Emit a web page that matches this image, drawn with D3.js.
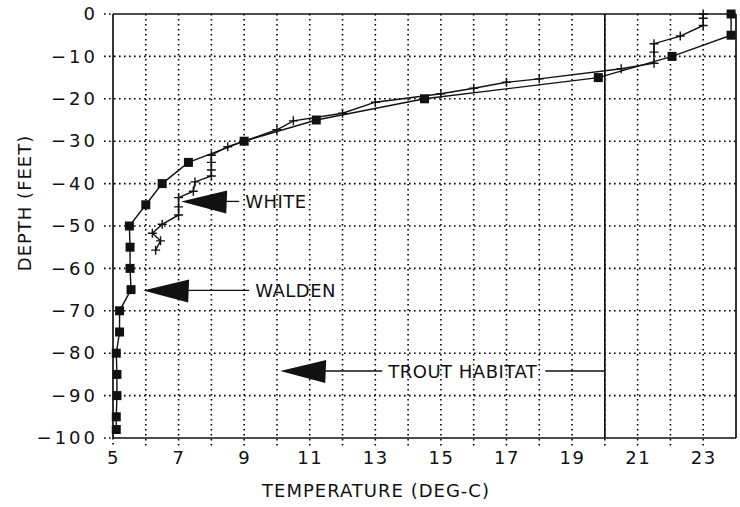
<!DOCTYPE html>
<html lang="en">
<head>
<meta charset="UTF-8">
<title>Lake temperature profiles</title>
<script src="https://d3js.org/d3.v7.min.js"></script>
<style>
  body { margin: 0; background: #fff; }
  svg { display: block; }
  text { font-family: "DejaVu Sans", sans-serif; fill: #111; }
  .grid line { stroke: #000; stroke-width: 1.6; stroke-dasharray: 1.6,3.4; }
  .frame { stroke: #111; stroke-width: 1.7; }
  .profile { fill: none; stroke: #111; stroke-width: 1.4; }
  .note line { stroke: #111; stroke-width: 1.3; }
</style>
</head>
<body>
<svg width="740" height="507"></svg>
<script>
// Walden Pond profile (square markers)
const waldenTemp  = [23.85, 23.85, 22.05, 19.8, 14.5, 11.2, 9.0, 7.3, 6.5, 6.0, 5.5, 5.52, 5.52, 5.55, 5.2, 5.2, 5.1, 5.12, 5.12, 5.1, 5.1];
const waldenDepth = [0, -5, -10, -15, -20, -25, -30, -35, -40, -45, -50, -55, -60, -65, -70, -75, -80, -85, -90, -95, -98];

// White Pond profile (plus markers)
const whiteTemp  = [23.0, 23.0, 23.0, 22.3, 21.5, 21.5, 21.5, 20.5, 18.0, 17.0, 16.0, 15.0, 13.0, 12.0, 10.5, 10.0, 8.5, 8.0, 8.0, 8.0, 8.0, 7.5, 7.45, 7.0, 7.0, 7.0, 6.5, 6.2, 6.45, 6.3];
const whiteDepth = [0, -1, -2.7, -5.2, -7, -9, -11.6, -12.9, -15.3, -16.1, -17.5, -18.8, -20.8, -23.4, -25.2, -27.3, -31.3, -33.3, -35, -36.8, -38.2, -39.6, -41.8, -43.3, -45.5, -47.4, -49.6, -51.7, -53.5, -55.7];

const xTicks = [5, 7, 9, 11, 13, 15, 17, 19, 21, 23];
const yTicks = [0, -10, -20, -30, -40, -50, -60, -70, -80, -90, -100];

// arrow annotations: tip position in data units
const noteLabels = ["WHITE", "WALDEN", "TROUT HABITAT"];
const noteTemp   = [7.08, 5.92, 10.1];
const noteDepth  = [-44.2, -65.2, -84.2];
const troutLimit = 20;

const svg = d3.select("svg");
const plotL = 113, plotR = 736, plotT = 14, plotB = 438;

const x = d3.scaleLinear().domain([5, 24]).range([plotL, plotR]);
const y = d3.scaleLinear().domain([0, -100]).range([plotT, plotB]);

// dotted grid
const grid = svg.append("g").attr("class", "grid");
grid.selectAll(".v").data(d3.range(6, 24)).join("line")
    .attr("x1", d => x(d)).attr("x2", d => x(d))
    .attr("y1", plotT).attr("y2", plotB + 8);
grid.selectAll(".h").data(yTicks.slice(1, -1)).join("line")
    .attr("class", "h")
    .attr("x1", plotL - 9).attr("x2", plotR)
    .attr("y1", d => y(d)).attr("y2", d => y(d));
// short dotted stubs outside the frame
grid.append("line").attr("x1", plotL - 9).attr("x2", plotL).attr("y1", y(0)).attr("y2", y(0));
grid.append("line").attr("x1", plotL - 9).attr("x2", plotL).attr("y1", y(-100)).attr("y2", y(-100));
grid.append("line").attr("x1", plotL).attr("x2", plotL).attr("y1", plotB).attr("y2", plotB + 8);

// frame
const frame = svg.append("g").attr("class", "frame");
frame.append("line").attr("x1", plotL).attr("x2", plotR).attr("y1", plotT).attr("y2", plotT);
frame.append("line").attr("x1", plotL).attr("x2", plotR).attr("y1", plotB).attr("y2", plotB);
frame.append("line").attr("x1", plotL).attr("x2", plotL).attr("y1", plotT).attr("y2", plotB);
frame.append("line").attr("x1", plotR).attr("x2", plotR).attr("y1", plotT).attr("y2", plotB);

// trout habitat limit
svg.append("line").attr("class", "frame")
    .attr("x1", x(troutLimit)).attr("x2", x(troutLimit))
    .attr("y1", plotT).attr("y2", plotB);

// axes
const xAxis = svg.append("g")
    .attr("transform", `translate(0,${plotB})`)
    .call(d3.axisBottom(x).tickValues(xTicks).tickSize(0).tickPadding(13));
const yAxis = svg.append("g")
    .attr("transform", `translate(${plotL},0)`)
    .call(d3.axisLeft(y).tickValues(yTicks).tickSize(0).tickPadding(15));
[xAxis, yAxis].forEach(a => {
  a.select(".domain").remove();
  a.selectAll("text").attr("font-size", 18)
      .attr("font-family", "DejaVu Sans").attr("fill", "#111");
});
xAxis.selectAll("text").attr("letter-spacing", 1.5);
yAxis.selectAll("text").attr("letter-spacing", 3);

svg.append("text")
    .attr("x", 376).attr("y", 497)
    .attr("text-anchor", "middle").attr("font-size", 18).attr("letter-spacing", 1)
    .text("TEMPERATURE (DEG-C)");
svg.append("text")
    .attr("transform", `translate(31,${203}) rotate(-90)`)
    .attr("text-anchor", "middle").attr("font-size", 18).attr("letter-spacing", 1)
    .text("DEPTH (FEET)");

// profiles
const line = d3.line().x(d => x(d[0])).y(d => y(d[1]));
const walden = waldenTemp.map((t, i) => [t, waldenDepth[i]]);
const white = whiteTemp.map((t, i) => [t, whiteDepth[i]]);

svg.append("path").attr("class", "profile").attr("d", line(white));
svg.append("path").attr("class", "profile").attr("d", line(walden));

svg.append("g").selectAll("rect").data(walden).join("rect")
    .attr("x", d => x(d[0]) - 4.5).attr("y", d => y(d[1]) - 4.5)
    .attr("width", 9).attr("height", 9).attr("fill", "#111");

svg.append("g").selectAll("path").data(white).join("path")
    .attr("d", d => `M${x(d[0]) - 4.5},${y(d[1])}h9M${x(d[0])},${y(d[1]) - 4.5}v9`)
    .attr("stroke", "#111").attr("stroke-width", 1.4);

// arrow notes
const notes = noteLabels.map((label, i) => ({label, t: noteTemp[i], d: noteDepth[i]}));
const gapAfter = [12, 60, 56];
const noteG = svg.append("g").attr("class", "note");
notes.forEach((n, i) => {
  const tx = x(n.t), ty = y(n.d);
  noteG.append("path")
      .attr("d", `M${tx},${ty}L${tx + 46},${ty - 11}L${tx + 45},${ty + 12}Z`)
      .attr("fill", "#111");
  const textX = tx + 46 + gapAfter[i] + 6;
  noteG.append("line")
      .attr("x1", tx + 45).attr("x2", tx + 46 + gapAfter[i])
      .attr("y1", ty).attr("y2", ty);
  const txt = noteG.append("text")
      .attr("x", textX).attr("y", ty + 7)
      .attr("font-size", 18).attr("letter-spacing", 0.5)
      .text(n.label);
  if (n.label === "TROUT HABITAT") {
    const w = txt.node().getComputedTextLength();
    noteG.append("line")
        .attr("x1", textX + w + 8).attr("x2", x(troutLimit))
        .attr("y1", ty).attr("y2", ty);
  }
});
</script>
</body>
</html>
